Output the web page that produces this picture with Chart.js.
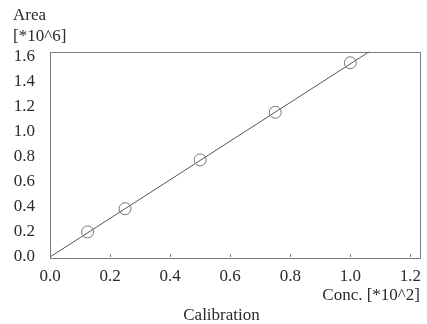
<!DOCTYPE html>
<html>
<head>
<meta charset="utf-8">
<title>Calibration</title>
<script src="https://cdn.jsdelivr.net/npm/chart.js@4/dist/chart.umd.min.js"></script>
<style>
  html, body { margin: 0; padding: 0; background: #fff; }
  #wrap { width: 427px; height: 324px; }
</style>
</head>
<body>
<div id="wrap"><canvas id="calChart" width="427" height="324"></canvas></div>
<script>
// Calibration data (conc in 10^2, area in 10^6)
const concValues = [0.125, 0.25, 0.5, 0.75, 1.0];
const areaValues = [0.2, 0.385, 0.775, 1.155, 1.55];

// fitted line, from origin to where it leaves the top of the plot
const fitX = [0, 1.064];
const fitY = [0, 1.64];

const xTicks = [0, 0.2, 0.4, 0.6, 0.8, 1.0, 1.2];
const yTicks = [0, 0.2, 0.4, 0.6, 0.8, 1.0, 1.2, 1.4, 1.6];

const serif = '"Liberation Serif", "Times New Roman", serif';
const textColor = '#2a2a2a';
const frameColor = '#7a7a7a';

// box around plot + short inside ticks on the x axis
const framePlugin = {
  id: 'frame',
  afterDatasetsDraw(chart) {
    const { ctx, chartArea: a, scales } = chart;
    ctx.save();
    ctx.strokeStyle = frameColor;
    ctx.lineWidth = 1;
    ctx.strokeRect(Math.round(a.left) + 0.5, Math.round(a.top) + 0.5,
      Math.round(a.right - a.left), Math.round(a.bottom - a.top));
    ctx.beginPath();
    xTicks.forEach(v => {
      const px = Math.round(scales.x.getPixelForValue(v)) + 0.5;
      ctx.moveTo(px, a.bottom);
      ctx.lineTo(px, a.bottom - 3);
    });
    ctx.stroke();
    ctx.restore();
  }
};

const ctx = document.getElementById('calChart').getContext('2d');
new Chart(ctx, {
  type: 'scatter',
  data: {
    datasets: [
      {
        type: 'line',
        data: fitX.map((x, i) => ({ x: x, y: fitY[i] })),
        borderColor: '#555',
        borderWidth: 1,
        pointRadius: 0,
        fill: false,
        order: 2
      },
      {
        data: concValues.map((x, i) => ({ x: x, y: areaValues[i] })),
        pointStyle: 'circle',
        pointRadius: 6,
        pointBorderWidth: 1,
        borderColor: '#777',
        backgroundColor: 'rgba(0,0,0,0)',
        order: 1
      }
    ]
  },
  options: {
    responsive: false,
    devicePixelRatio: 1,
    animation: false,
    // right padding is negative to cancel the room Chart.js keeps for the last x label
    layout: { padding: { left: 13, right: -3, top: 0, bottom: 0 } },
    plugins: {
      legend: { display: false },
      tooltip: { enabled: false },
      title: {
        display: true,
        text: ['Area', '[*10^6]'],
        align: 'start',
        position: 'top',
        color: textColor,
        font: { family: serif, size: 17, weight: 'normal', lineHeight: 1.25 },
        padding: { top: 5, bottom: 4 }
      },
      subtitle: {
        display: true,
        text: 'Calibration',
        position: 'bottom',
        color: textColor,
        font: { family: serif, size: 17, weight: 'normal', lineHeight: 1.0 },
        padding: { top: 0, bottom: 0 }
      }
    },
    scales: {
      x: {
        type: 'linear',
        min: 0,
        max: 1.232,
        afterBuildTicks: axis => { axis.ticks = xTicks.map(v => ({ value: v })); },
        afterFit: scale => { scale.height = 50; },
        grid: { display: false },
        border: { display: false },
        ticks: {
          color: textColor,
          padding: 1,
          maxRotation: 0,
          font: { family: serif, size: 17 },
          callback: v => v.toFixed(1)
        },
        title: {
          display: true,
          text: 'Conc. [*10^2]',
          align: 'end',
          color: textColor,
          font: { family: serif, size: 17, lineHeight: 1.2 },
          padding: { top: 0, bottom: 1 }
        }
      },
      y: {
        type: 'linear',
        min: 0,
        max: 1.64,
        afterBuildTicks: axis => { axis.ticks = yTicks.map(v => ({ value: v })); },
        afterFit: scale => { scale.width = 37; },
        grid: { display: false },
        border: { display: false },
        ticks: {
          color: textColor,
          padding: 7,
          font: { family: serif, size: 17 },
          callback: v => v.toFixed(1)
        }
      }
    }
  },
  plugins: [framePlugin]
});
</script>
</body>
</html>
